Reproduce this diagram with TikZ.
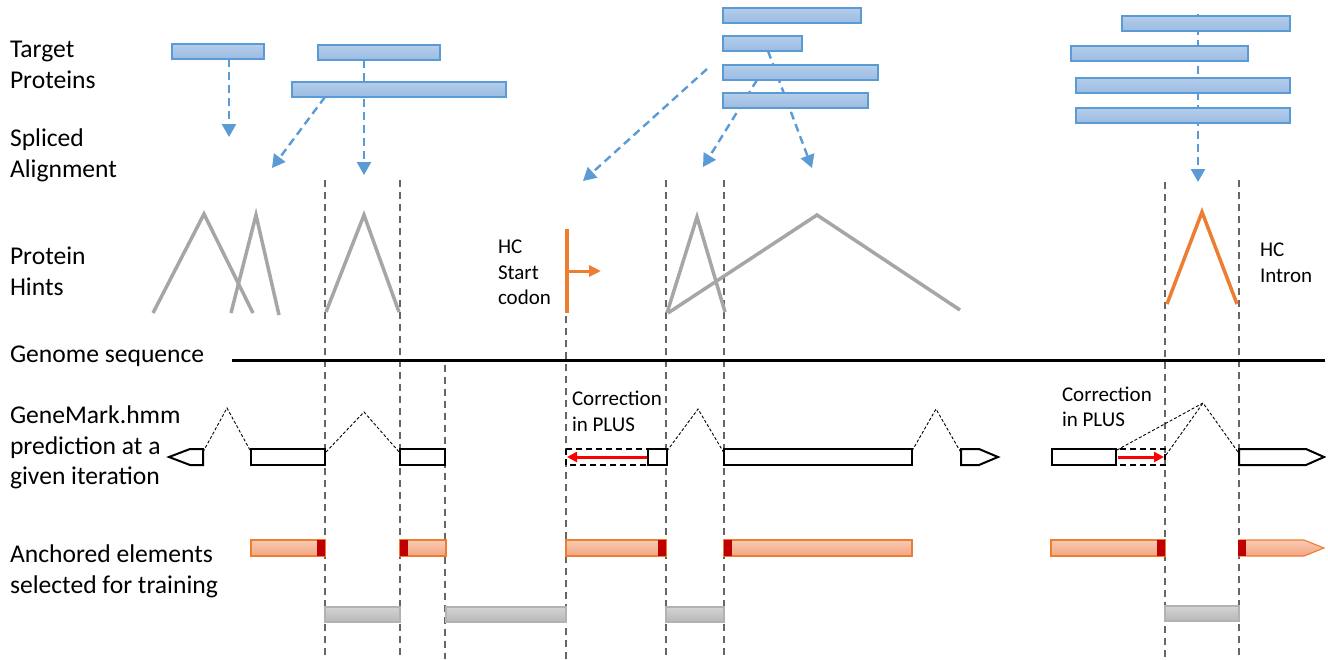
\documentclass[tikz,border=0pt]{standalone}
\usepackage{fontspec}
\setmainfont{Carlito}
\usepackage{tikz}
\usetikzlibrary{arrows.meta}
\usetikzlibrary{backgrounds}
\definecolor{protblue}{HTML}{5B9BD5}
\definecolor{protlight}{HTML}{B4CDEA}
\definecolor{protdark}{HTML}{9BBCE3}
\definecolor{hintgray}{HTML}{A6A6A6}
\definecolor{hcorange}{HTML}{ED7D31}
\definecolor{anchlight}{HTML}{F9CAB3}
\definecolor{anchdark}{HTML}{F4A582}
\definecolor{anchred}{HTML}{C00000}
\definecolor{trainlight}{HTML}{D4D4D4}
\definecolor{traindark}{HTML}{B8B8B8}
\tikzset{GMstyle/.style={
    x=1pt,y=-1pt,% one unit per pixel, y going down
    font=\fontsize{25.6}{30.8}\selectfont,
    every node/.style={inner sep=0pt,outer sep=0pt}
  },
  lbl/.style={anchor=west,align=left},% row titles
  small/.style={anchor=west,align=left,font=\fontsize{21}{25.5}\selectfont},
  protbar/.style={draw=protblue,line width=1.1pt,top color=protlight,bottom color=protdark,
    minimum height=15pt,anchor=north west},
  alnarrow/.style={draw=protblue,line width=2.4pt,dash pattern=on 8pt off 5pt,
    -{Triangle[length=13pt,width=14pt]}},
  bound/.style={draw=black!60,line width=1.2pt,dash pattern=on 7pt off 5pt},
  hint/.style={draw=hintgray,line width=3.5pt},
  hc/.style={draw=hcorange,line width=3.5pt},
  cds/.style={draw=black,line width=2pt,fill=white},
  intron/.style={draw=black,line width=0.9pt,dash pattern=on 3pt off 2pt},
  fix/.style={draw=black,line width=2pt,dash pattern=on 6pt off 4pt},
  corr/.style={draw=red,line width=3pt,-{Triangle[length=10pt,width=10pt]}},
  anch/.style={draw=hcorange,line width=1.1pt,top color=anchlight,bottom color=anchdark},
  train/.style={draw=black!30,line width=1.1pt,top color=trainlight,bottom color=traindark}
}

\begin{document}
\begin{tikzpicture}[GMstyle]
  \useasboundingbox (0,0) rectangle (1328,659);
  % row titles
  \node[lbl] (tgt) at (10,65) {Target\\Proteins};
  \node[lbl] (spl) at (10,155) {Spliced\\Alignment};
  \node[lbl] (hnt) at (10,271) {Protein\\Hints};
  \node[lbl] (gen) at (10,356) {Genome sequence};
  \node[lbl] (gmk) at (10,447.5) {GeneMark.hmm\\prediction at a\\given iteration};
  \node[lbl] (anc) at (10,571) {Anchored elements\\selected for training};

  % target proteins
  \node[protbar,minimum width=92] (tp1) at (172,44) {};
  \node[protbar,minimum width=122] (tp2) at (318,45) {};
  \node[protbar,minimum width=214] (tp3) at (292,82) {};
  \node[protbar,minimum width=138] (tp4) at (723,8) {};
  \node[protbar,minimum width=79] (tp5) at (723,36) {};
  \node[protbar,minimum width=155] (tp6) at (723,65) {};
  \node[protbar,minimum width=145] (tp7) at (723,93) {};
  \node[protbar,minimum width=168] (tp8) at (1122,16) {};
  \node[protbar,minimum width=177] (tp9) at (1071,46) {};
  \node[protbar,minimum width=214] (tp10) at (1076,78) {};
  \node[protbar,minimum width=214] (tp11) at (1076,108) {};

  % where the alignments land
  \coordinate (sa1) at (229,137);
  \coordinate (sa2) at (272,168);
  \coordinate (sa3) at (364,175);
  \coordinate (sa4) at (583,181);
  \coordinate (sa5) at (703,167);
  \coordinate (sa6) at (812,168);
  \coordinate (sa7) at (1198,182);
  \coordinate (tp6w) at (707,69);

  \begin{pgfonlayer}{background}
    \path[alnarrow] ([xshift=57]tp1.south west) -- (sa1);
    \path[alnarrow] ([xshift=33]tp3.south west) -- (sa2);
    \path[alnarrow] ([xshift=46]tp2.south west) -- (sa3);
    \path[alnarrow] (tp6w) -- (sa4);
    \path[alnarrow] ([xshift=34]tp6.south west) -- (sa5);
    \path[alnarrow] ([xshift=45]tp5.south west) -- (sa6);
    \path[alnarrow] ([xshift=76,yshift=2]tp8.north west) -- (sa7);
    % exon borders
    \foreach \x/\y in {325/180,400/180,445/365,566/316,666/180,724/180,1165/182,1239/180}
      \draw[bound] (\x,\y) -- (\x,659);
  \end{pgfonlayer}

  % protein hints
  \draw[hint] (153,313) -- (204,214) -- (253,313);
  \draw[hint] (231,313) -- (256,215) -- (279,315);
  \draw[hint] (326,312) -- (364,215) -- (399,312);
  \draw[hint] (667,313) -- (697,217) -- (725,312);
  \draw[hint] (668,313) -- (817,215) -- (960,310);
  \draw[hc] (567,229) -- (567,313);
  \draw[hc,line width=3pt,-{Triangle[length=12pt,width=11pt]}] (567,271) -- (601,271);
  \draw[hc,line join=miter] (1167,304) -- (1202,212) -- (1237,304);
  \node[small] (hcs) at (498,272.5) {HC\\Start\\codon};
  \node[small] (hci) at (1260,263) {HC\\Intron};

  % genome
  \draw[line width=3pt] (232,360) -- (1325,360);

  % GeneMark.hmm prediction
  \draw[cds] (203,449) -- (190,449) -- (169,457) -- (190,465) -- (203,465) -- cycle;
  \draw[intron] (203,452) -- (227,408) -- (251,452);
  \draw[cds] (251,449) rectangle (325,465);
  \draw[intron] (326,452) -- (364,412) -- (400,453);
  \draw[cds] (400,449) rectangle (445,465);
  \draw[fix] (566,449) rectangle (648,465);
  \draw[cds] (648,449) rectangle (667,465);
  \draw[corr] (647,457) -- (567,457);
  \draw[intron] (667,451) -- (698,409) -- (724,453);
  \draw[cds] (724,449) rectangle (912,465);
  \draw[intron] (912,451) -- (936,409) -- (960,451);
  \draw[cds] (961,449) -- (979,449) -- (998,457) -- (979,465) -- (961,465) -- cycle;
  \draw[cds] (1052,449) rectangle (1116,465);
  \draw[fix] (1116,449) rectangle (1165,465);
  \draw[corr] (1118,457) -- (1164,457);
  \draw[intron] (1117,450) -- (1203,403) -- (1238,452);
  \draw[intron] (1166,455) -- (1203,403);
  \draw[cds] (1239,449) -- (1306,449) -- (1324,457) -- (1306,465) -- (1239,465) -- cycle;
  \node[small] (cor1) at (572,411.5) {Correction\\in PLUS};
  \node[small] (cor2) at (1062,407) {Correction\\in PLUS};

  % anchored elements
  \draw[anch] (251,540) rectangle (325,556);
  \fill[anchred] (317,540) rectangle (325,556);
  \draw[anch] (400,540) rectangle (446,556);
  \fill[anchred] (400,540) rectangle (408,556);
  \draw[anch] (566,540) rectangle (666,556);
  \fill[anchred] (658,540) rectangle (666,556);
  \draw[anch] (724,540) rectangle (912,556);
  \fill[anchred] (724,540) rectangle (732,556);
  \draw[anch] (1051,540) rectangle (1165,556);
  \fill[anchred] (1157,540) rectangle (1165,556);
  \draw[anch] (1239,540) -- (1304,540) -- (1324,548) -- (1304,556) -- (1239,556) -- cycle;
  \fill[anchred] (1238,540) rectangle (1246,556);

  % training regions
  \draw[train] (325,607) rectangle (400,622);
  \draw[train] (446,607) rectangle (566,622);
  \draw[train] (666,607) rectangle (724,622);
  \draw[train] (1165,606) rectangle (1239,621);
\end{tikzpicture}
\end{document}
